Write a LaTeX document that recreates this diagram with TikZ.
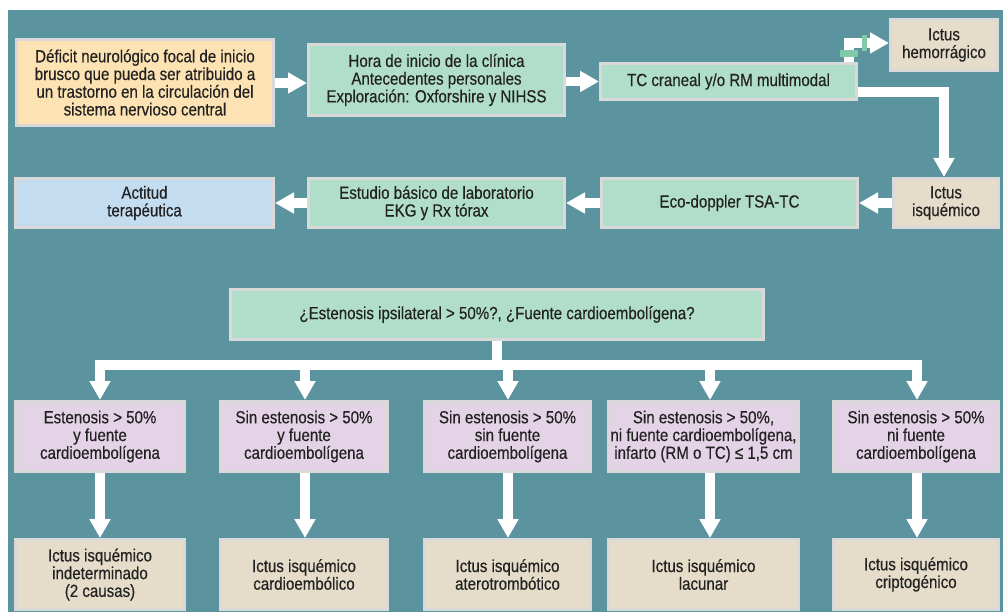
\documentclass[tikz,border=0pt]{standalone}
\usepackage{fontspec}
\setmainfont[FakeStretch=0.86,FakeBold=0.4]{Liberation Sans}
\usetikzlibrary{arrows.meta}
\definecolor{bgteal}{HTML}{5B949F}
\definecolor{borderc}{HTML}{D9D9D9}
\definecolor{orangec}{HTML}{FDE2B3}
\definecolor{greenc}{HTML}{B1DECB}
\definecolor{bluec}{HTML}{C4DCF0}
\definecolor{beigec}{HTML}{E5DCC9}
\definecolor{purplec}{HTML}{E4D3E6}
\definecolor{textc}{HTML}{222222}
\definecolor{barc}{HTML}{80C9A9}
\pgfdeclarelayer{bg}
\pgfsetlayers{bg,main}
\newcommand\bx[7]{\node[box,fill=#6,minimum width={#4bp-#2bp-3bp},minimum height={#5bp-#3bp-3bp}] (#1) at ({(#2+#4)/2},{(#3+#5)/2}) {#7};}
\begin{document}
\begin{tikzpicture}[x=1bp,y=-1bp,
  box/.style={draw=borderc,line width=3bp,text=textc,align=center,inner sep=1bp,
    font=\fontsize{17.6}{17.8}\selectfont},
  wl/.style={white,line width=9.5bp},
  arr/.style={white,line width=9.5bp,-{Triangle[width=20bp,length=19bp]}}]
\useasboundingbox (0,0) rectangle (1003,612);
\begin{pgfonlayer}{bg}
\fill[white] (0,0) rectangle (1003,612);
\fill[bgteal] (8,10) rectangle (1003,612);
\end{pgfonlayer}
% row 1
\bx{b1}{15}{38}{275}{127}{orangec}{Déficit neurológico focal de inicio\\brusco que pueda ser atribuido a\\un trastorno en la circulación del\\sistema nervioso central}
\bx{b2}{307}{43}{566}{117}{greenc}{Hora de inicio de la clínica\\Antecedentes personales\\Exploración: Oxforshire y NIHSS}
\bx{tc}{599}{62}{858}{101}{greenc}{TC craneal y/o RM multimodal}
\bx{hem}{889}{18}{999}{72}{beigec}{Ictus\\hemorrágico}
% row 2
\bx{act}{14}{177}{275}{229}{bluec}{Actitud\\terapéutica}
\bx{est}{307}{177}{566}{229}{greenc}{Estudio básico de laboratorio\\EKG y Rx tórax}
\bx{eco}{600}{177}{859}{229}{greenc}{Eco-doppler TSA-TC}
\bx{isq}{892}{177}{1000}{229}{beigec}{Ictus\\isquémico}
% question
\bx{q}{229}{288}{765}{341}{greenc}{¿Estenosis ipsilateral > 50\%?, ¿Fuente cardioembolígena?}
% row 3
\bx{pa}{14}{400}{186}{473}{purplec}{Estenosis > 50\%\\y fuente\\cardioembolígena}
\bx{pb}{219}{400}{389}{473}{purplec}{Sin estenosis > 50\%\\y fuente\\cardioembolígena}
\bx{pc}{423}{400}{592}{473}{purplec}{Sin estenosis > 50\%\\sin fuente\\cardioembolígena}
\bx{pd}{607}{400}{800}{473}{purplec}{Sin estenosis > 50\%,\\ni fuente cardioembolígena,\\infarto (RM o TC) ≤ 1,5 cm}
\bx{pe}{832}{400}{1000}{473}{purplec}{Sin estenosis > 50\%\\ni fuente\\cardioembolígena}
% row 4
\bx{ra}{14}{538}{186}{611}{beigec}{Ictus isquémico\\indeterminado\\(2 causas)}
\bx{rb}{219}{538}{389}{611}{beigec}{Ictus isquémico\\cardioembólico}
\bx{rc}{423}{538}{592}{611}{beigec}{Ictus isquémico\\aterotrombótico}
\bx{rd}{607}{538}{800}{611}{beigec}{Ictus isquémico\\lacunar}
\bx{re}{832}{538}{1000}{611}{beigec}{Ictus isquémico\\criptogénico}
% coordinates
\coordinate (y1) at (0,83);
\coordinate (h1) at (849,43);
\coordinate (c2) at (944,92);
\coordinate (s) at (497,365);
\coordinate (p1) at (100,365);
\coordinate (p2) at (305,365);
\coordinate (p3) at (508,365);
\coordinate (p4) at (710,365);
\coordinate (p5) at (917,365);
\begin{pgfonlayer}{bg}
\draw[arr] (b1.east |- y1) -- (b2.west |- y1);
\draw[arr] (b2.east |- tc.west) -- (tc.west);
\draw[arr] (tc.north -| h1) -- (h1) -- (hem.west |- h1);
\draw[arr] (tc.east |- c2) -- (c2) -- (isq.north -| c2);
\draw[arr] (isq.west) -- (eco.east);
\draw[arr] (eco.west) -- (est.east);
\draw[arr] (est.west) -- (act.east);
\draw[wl] (q.south -| s) -- (s);
\draw[wl,line cap=rect] (p1) -- (p5);
\draw[arr] (p1) -- (pa.north -| p1);
\draw[arr] (p2) -- (pb.north -| p2);
\draw[arr] (p3) -- (pc.north -| p3);
\draw[arr] (p4) -- (pd.north -| p4);
\draw[arr] (p5) -- (pe.north -| p5);
\draw[arr] (pa.south -| p1) -- (ra.north -| p1);
\draw[arr] (pb.south -| p2) -- (rb.north -| p2);
\draw[arr] (pc.south -| p3) -- (rc.north -| p3);
\draw[arr] (pd.south -| p4) -- (rd.north -| p4);
\draw[arr] (pe.south -| p5) -- (re.north -| p5);
\end{pgfonlayer}
\fill[barc] (840,50) rectangle (858,57);
\fill[barc] (862,35) rectangle (867,51);
\end{tikzpicture}
\end{document}
